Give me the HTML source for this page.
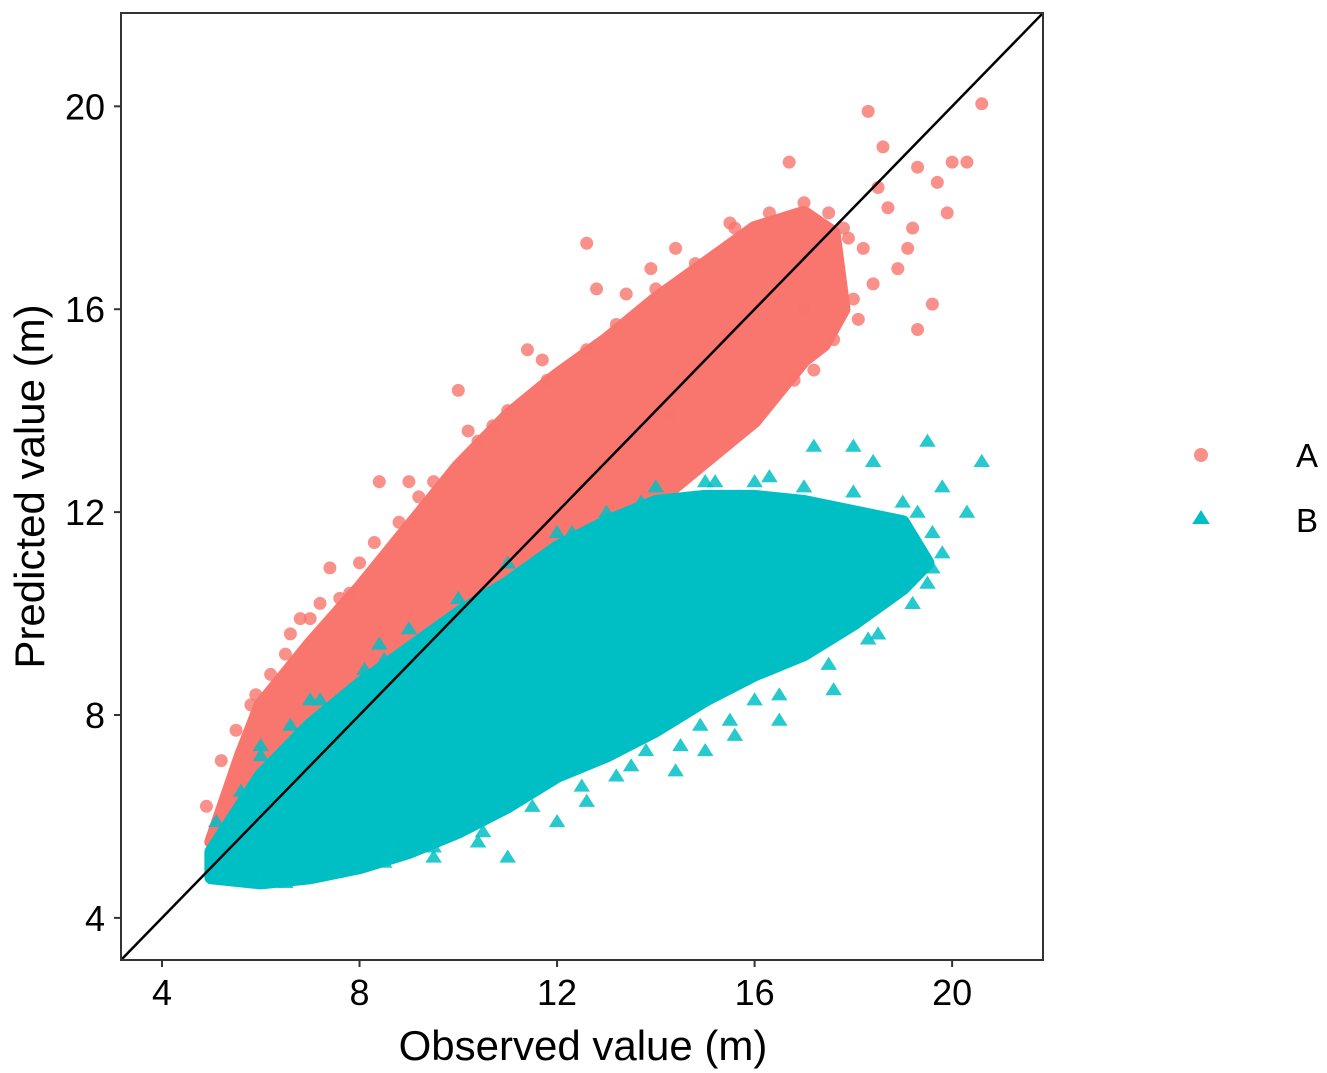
<!DOCTYPE html>
<html><head><meta charset="utf-8"><style>
html,body{margin:0;padding:0;background:#fff}
svg{display:block;font-family:"Liberation Sans",Arial,sans-serif}
</style></head><body>
<svg id="chart" width="1327" height="1073" viewBox="0 0 1327 1073"></svg>
<script>
const xTicks=[4,8,12,16,20];
const yTicks=[4,8,12,16,20];
const domain=[3.17,21.84];
// series A dense-cloud boundary (observed, predicted)
const aHullX=[5,5.6,6,7,8,9,10,11,12,13,14,15,16,17,17.6,17.8,17.4,17,16,15,14,13,12,11,10,9,8,7,6,5.3];
const aHullY=[5.5,7.2,8.2,9.4,10.5,11.7,12.9,13.9,14.7,15.4,16.2,16.9,17.6,17.9,17.5,16,15.3,15,13.8,13,12.2,11.5,10.8,10.2,9.3,8.5,7.6,6.7,6,5.2];
// series A scattered points
const aX=[12.6,18.3,20.6,18.6,19.3,20,20.3,19.7,19.9,19.1,19.6,19.3,18.9,18.1,10,9,8.4,7.4,6.5,5.8,5.2,4.9,5.5,11.4,12.8,13.4,14.4,15.5,16.7,17.5,18.7,19.2,15.5,16.8,17,14.3,10.2,7.8,6.8,11.7,13.9,18.5,17.9,
6.2,7,7.6,8,8.8,9.5,10.4,11,11.8,12.6,13.2,14,14.8,15.6,16.3,17,17.8,18.2,18.4,18,17.6,17.2,5.9,6.6,7.2,8.3,9.2,10.7];
const aY=[17.3,19.9,20.05,19.2,18.8,18.9,18.9,18.5,17.9,17.2,16.1,15.6,16.8,15.8,14.4,12.6,12.6,10.9,9.2,8.2,7.1,6.2,7.7,15.2,16.4,16.3,17.2,17.7,18.9,17.9,18,17.6,15.5,14.6,16,13.9,13.6,10.4,9.9,15,16.8,18.4,17.4,
8.8,9.9,10.3,11,11.8,12.6,13.4,14,14.6,15.2,15.7,16.4,16.9,17.6,17.9,18.1,17.6,17.2,16.5,16.2,15.4,14.8,8.4,9.6,10.2,11.4,12.3,13.7];
// series B dense-cloud boundary
const bHullX=[5,6,7,8,9,10,11,12,13,14,15,16,17,18,19,19.5,19,18,17,16,15,14,13,12,11,10,9,8,7,6,5];
const bHullY=[5.3,6.8,7.8,8.6,9.3,10,10.6,11.3,11.8,12.2,12.3,12.3,12.2,12,11.8,11,10.5,9.8,9.2,8.8,8.3,7.7,7.2,6.8,6.2,5.7,5.3,5,4.8,4.7,4.8];
// series B scattered points
const bX=[19.5,20.6,18,17.2,18.4,19.8,20.3,19.3,16.5,13.2,11,10.4,9.5,8.7,9.5,9,8.4,8.1,7.2,6.6,5.6,5.1,6,14.4,15,17.6,18.3,19.5,19.6,12,12.6,13.8,14.9,16,15.6,7.5,6.5,5.2,12.3,13.7,15.2,16.3,
6,7,8.5,10,11,12,13,14,15,16,17,18,19,19.6,19.8,19.2,18.5,17.5,16.5,15.5,14.5,13.5,12.5,11.5,10.5,9.5,8.5,7.5,6];
const bY=[13.4,13,13.3,13.3,13,12.5,12,12,7.9,6.8,5.2,5.5,5.2,5.4,9.6,9.7,9.4,8.9,8.3,7.8,6.5,5.9,7.2,6.9,7.3,8.5,9.5,10.6,10.9,5.9,6.3,7.3,7.8,8.3,7.6,4.9,4.7,4.8,11.6,12.2,12.6,12.7,
7.4,8.3,9.1,10.3,11,11.6,12,12.5,12.6,12.6,12.5,12.4,12.2,11.6,11.2,10.2,9.6,9,8.4,7.9,7.4,7,6.6,6.2,5.7,5.4,5.1,4.9,4.8];

const L=121,R=1043,T=13,B=960;
const sx=v=>L+(v-domain[0])/(domain[1]-domain[0])*(R-L);
const sy=v=>B-(v-domain[0])/(domain[1]-domain[0])*(B-T);
const NS="http://www.w3.org/2000/svg";
const svg=document.getElementById('chart');
function mk(tag,attrs,parent){const e=document.createElementNS(NS,tag);for(const k in attrs)e.setAttribute(k,attrs[k]);(parent||svg).appendChild(e);return e;}
const A='#F8766D',Bc='#00BFC4';
const clip=mk('clipPath',{id:'pc'});mk('rect',{x:L,y:T,width:R-L,height:B-T},clip);
const gA=mk('g',{'clip-path':'url(#pc)'});


const ha=mk('polygon',{points:aHullX.map((x,i)=>sx(x)+','+sy(aHullY[i])).join(' '),fill:A,stroke:A,'stroke-width':14,'stroke-linejoin':'round'},gA);


aX.forEach((x,i)=>{const c=mk('circle',{cx:sx(x),cy:sy(aY[i]),r:6.5,fill:A,'fill-opacity':0.8},gA);

});
const gB=mk('g',{'clip-path':'url(#pc)'});


const hb=mk('polygon',{points:bHullX.map((x,i)=>sx(x)+','+sy(bHullY[i])).join(' '),fill:Bc,stroke:Bc,'stroke-width':14,'stroke-linejoin':'round'},gB);


function tri(cx,cy,s){return `${cx},${cy-s} ${cx-s*1.1},${cy+s*0.75} ${cx+s*1.1},${cy+s*0.75}`;}
bX.forEach((x,i)=>{const p=mk('polygon',{points:tri(sx(x),sy(bY[i]),7.5),fill:Bc,'fill-opacity':0.85},gB);

});
const ln=mk('line',{x1:sx(domain[0]),y1:sy(domain[0]),x2:sx(domain[1]),y2:sy(domain[1]),stroke:'#000','stroke-width':2.5,'clip-path':'url(#pc)'});


const fr=mk('rect',{x:L,y:T,width:R-L,height:B-T,fill:'none',stroke:'#333','stroke-width':2});


xTicks.forEach(t=>{mk('line',{x1:sx(t),x2:sx(t),y1:B,y2:B+7,stroke:'#333','stroke-width':2});
const tx=mk('text',{x:sx(t),y:B+45,'font-size':36,'text-anchor':'middle',fill:'#000'});tx.textContent=t;

});
yTicks.forEach(t=>{mk('line',{x1:L-7,x2:L,y1:sy(t),y2:sy(t),stroke:'#333','stroke-width':2});
const tx=mk('text',{x:L-16,y:sy(t)+13,'font-size':36,'text-anchor':'end',fill:'#000'});tx.textContent=t;

});
const xt=mk('text',{x:583,y:1060,'font-size':42,'text-anchor':'middle',fill:'#000'});xt.textContent='Observed value (m)';


const yt=mk('text',{x:0,y:0,'font-size':42,'text-anchor':'middle',fill:'#000',transform:`translate(44,${(T+B)/2}) rotate(-90)`});yt.textContent='Predicted value (m)';


const lg=mk('g',{});


mk('circle',{cx:1201,cy:455,r:7,fill:A,'fill-opacity':0.8},lg);
const la=mk('text',{x:1307,y:467,'font-size':33,'text-anchor':'middle',fill:'#000'},lg);la.textContent='A';


mk('polygon',{points:tri(1201,518,8),fill:Bc},lg);
const lb=mk('text',{x:1307,y:532,'font-size':33,'text-anchor':'middle',fill:'#000'},lg);lb.textContent='B';


</script>
</body></html>
